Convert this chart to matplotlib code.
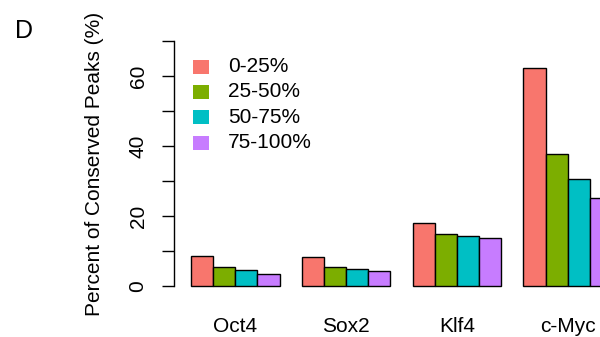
import matplotlib
matplotlib.use("Agg")
import matplotlib.pyplot as plt
from matplotlib.patches import Rectangle
import numpy as np

categories = ["Oct4", "Sox2", "Klf4", "c-Myc"]
series_labels = ["0-25%", "25-50%", "50-75%", "75-100%"]
colors = ["#F8766D", "#7CAE00", "#00BFC4", "#C77CFF"]
values = {
    "0-25%":   [8.6, 8.4, 18.1, 62.2],
    "25-50%":  [5.3, 5.3, 14.9, 37.7],
    "50-75%":  [4.6, 4.9, 14.2, 30.7],
    "75-100%": [3.3, 4.4, 13.7, 25.1],
}
yticks = [0, 10, 20, 30, 40, 50, 60, 70]
ytick_labels = ["0", "", "20", "", "40", "", "60", ""]

plt.rcParams['font.family'] = ['Liberation Sans', 'DejaVu Sans']
W, H = 600, 337
FS = 15
fig = plt.figure(figsize=(6, 3.37), dpi=100)

# axes placement (pixel based), extends beyond right edge like the cropped original
x0_px, x1_px = 174.0, 629.0
y0_px = 286 + 3 * 3.5
y1_px = 41 - 3 * 3.5
ax = fig.add_axes([x0_px / W, 1 - y0_px / H, (x1_px - x0_px) / W, (y0_px - y1_px) / H])

n_ser = len(series_labels)
for gi, cat in enumerate(categories):
    start = 1 + gi * (n_ser + 1)
    for si, lab in enumerate(series_labels):
        ax.bar(start + si, values[lab][gi], width=1.0, align='edge',
               color=colors[si], edgecolor='black', linewidth=1.0)

ax.set_xlim(0.24, 20.76)
ax.set_ylim(-3, 73)
centers = [1 + gi * (n_ser + 1) + n_ser / 2 for gi in range(len(categories))]
ax.set_xticks(centers)
ax.set_xticklabels(categories, fontsize=FS)
ax.tick_params(axis='x', length=0, pad=15)

ax.set_yticks(yticks)
ax.set_yticklabels(ytick_labels, rotation=90, va='center', fontsize=FS)
ax.tick_params(axis='y', length=9, width=1.0, pad=10)
for s in ['top', 'right', 'bottom']:
    ax.spines[s].set_visible(False)
ax.spines['left'].set_bounds(0, 70)
ax.spines['left'].set_linewidth(1.0)

fig.text(95 / W, 1 - 163.5 / H, "Percent of Conserved Peaks (%)", rotation=90,
         ha='center', va='center', fontsize=FS)
fig.text(24 / W, 1 - 31 / H, "D", ha='center', va='center', fontsize=18)

# legend
row_y = [66.7, 91.7, 117.3, 142.7]
for lab, c, yy in zip(series_labels, colors, row_y):
    fig.patches.append(Rectangle((192.7 / W, 1 - (yy + 7) / H), 16.6 / W, 14 / H,
                                 transform=fig.transFigure, facecolor=c, edgecolor='none'))
    fig.text(228 / W, 1 - yy / H, lab, ha='left', va='center', fontsize=FS)

fig.savefig("out.png", dpi=100)
